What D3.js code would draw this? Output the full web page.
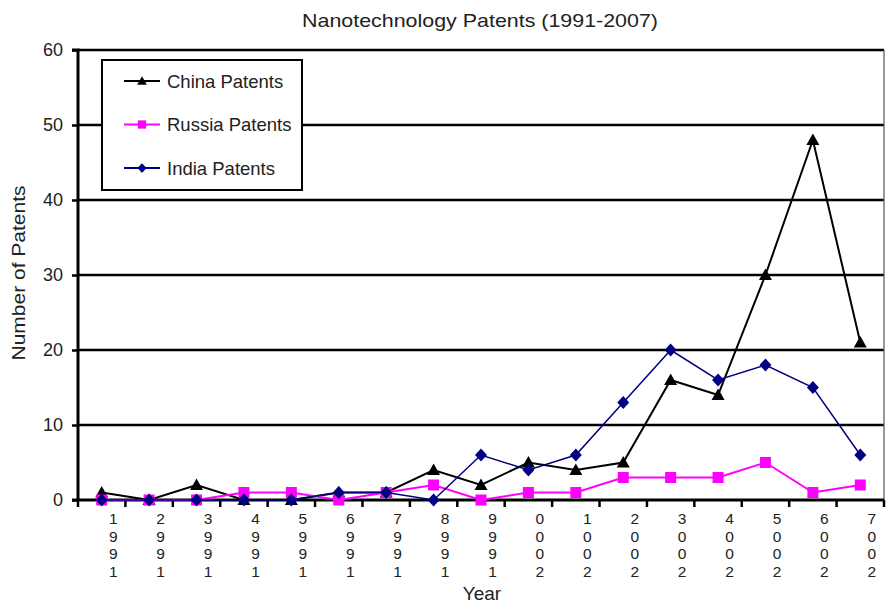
<!DOCTYPE html>
<html><head><meta charset="utf-8">
<script src="https://cdn.jsdelivr.net/npm/d3@7"></script>
<style>body{margin:0;background:#fff}svg{display:block;font-family:"Liberation Sans",Arial,sans-serif}</style>
</head><body><svg id="c" width="886" height="605"></svg>
<script>
const years = ["1991","1992","1993","1994","1995","1996","1997","1998","1999","2000","2001","2002","2003","2004","2005","2006","2007"];
const china  = [1,0,2,0,0,1,1,4,2,5,4,5,16,14,30,48,21];
const russia = [0,0,0,1,1,0,1,2,0,1,1,3,3,3,5,1,2];
const india  = [0,0,0,0,0,1,1,0,6,4,6,13,20,16,18,15,6];
const yTicks = [0,10,20,30,40,50,60];
const seriesNames = ["China Patents","Russia Patents","India Patents"];
const colors = ["#000000","#FF00FF","#000080"];

const svg = d3.select("#c");
const L=78, R=884, T=50, B=500;
const x = d3.scaleBand().domain(years).range([L, R]);
const y = d3.scaleLinear().domain([0,60]).range([B, T]);
const cx = d => x(d) + x.bandwidth()/2;

function marker(sel, si, s){
  if (si===0) sel.append("path").attr("d",`M0,${-6.5*s}L${6.5*s},${5*s}L${-6.5*s},${5*s}Z`).attr("fill",colors[0]);
  else if (si===1) sel.append("rect").attr("x",-5.5*s).attr("y",-5.5*s).attr("width",11*s).attr("height",11*s).attr("fill",colors[1]);
  else sel.append("path").attr("d",`M0,${-6.5*s}L${6*s},0L0,${6.5*s}L${-6*s},0Z`).attr("fill",colors[2]);
}

// title
svg.append("text").attr("x",480).attr("y",27).attr("text-anchor","middle")
  .attr("font-size",19).attr("fill","#222").attr("textLength",356).attr("lengthAdjust","spacingAndGlyphs")
  .text("Nanotechnology Patents (1991-2007)");

// gridlines
svg.append("g").selectAll("line").data(yTicks.filter(v=>v>0)).join("line")
  .attr("x1",L).attr("x2",R).attr("y1",d=>y(d)).attr("y2",d=>y(d))
  .attr("stroke","#000").attr("stroke-width",2.5);
// right border
svg.append("line").attr("x1",R).attr("x2",R).attr("y1",T).attr("y2",B).attr("stroke","#555").attr("stroke-width",1.2);

// y axis
const ya = svg.append("g").attr("transform",`translate(${L},0)`)
  .call(d3.axisLeft(y).tickValues(yTicks).tickSize(6).tickPadding(9));
ya.select(".domain").attr("stroke-width",3).attr("d",`M-6,${T}H0V${B}`);
ya.selectAll(".tick line").attr("stroke-width",2.5);
ya.selectAll("text").attr("font-size",18).attr("fill","#222").attr("font-family","Liberation Sans, Arial, sans-serif");

// x axis
const xa = svg.append("g").attr("transform",`translate(0,${B})`);
xa.append("line").attr("x1",L-6).attr("x2",R).attr("y1",0).attr("y2",0).attr("stroke","#000").attr("stroke-width",3);
const bounds = years.map(d=>x(d)).concat([R]);
xa.selectAll("line.tk").data(bounds).join("line").attr("class","tk")
  .attr("x1",d=>d).attr("x2",d=>d).attr("y1",0).attr("y2",7).attr("stroke","#000").attr("stroke-width",2.5);
const lab = xa.selectAll("text.yl").data(years).join("text").attr("class","yl")
  .attr("text-anchor","middle").attr("font-size",15.5).attr("fill","#222");
lab.each(function(d){
  const t = d3.select(this);
  d.split("").reverse().forEach((ch,i)=>{
    t.append("tspan").attr("x",cx(d)+11.5).attr("y",24+i*17.6).text(ch);
  });
});

// axis titles
svg.append("text").attr("x",482).attr("y",600).attr("text-anchor","middle").attr("font-size",19).attr("fill","#222").text("Year");
svg.append("text").attr("transform","translate(25,273) rotate(-90)").attr("text-anchor","middle").attr("font-size",19)
  .attr("textLength",175).attr("lengthAdjust","spacingAndGlyphs").attr("fill","#222").text("Number of Patents");

// series
const data = [china, russia, india];
const widths = [2,2,1.5];
data.forEach((vals,si)=>{
  const g = svg.append("g");
  const line = d3.line().x((v,i)=>cx(years[i])).y(v=>y(v));
  g.append("path").datum(vals).attr("d",line).attr("fill","none").attr("stroke",colors[si]).attr("stroke-width",widths[si]);
  g.selectAll("g.m").data(vals).join("g").attr("class","m")
    .attr("transform",(v,i)=>`translate(${cx(years[i])},${y(v)})`)
    .each(function(){ marker(d3.select(this), si, 1); });
});

// legend
const lg = svg.append("g").attr("transform","translate(102,60)");
lg.append("rect").attr("width",200).attr("height",130).attr("fill","#fff").attr("stroke","#000").attr("stroke-width",2);
seriesNames.forEach((n,i)=>{
  const yy = 21 + i*43.5;
  lg.append("line").attr("x1",22).attr("x2",58).attr("y1",yy).attr("y2",yy).attr("stroke",colors[i]).attr("stroke-width",2);
  marker(lg.append("g").attr("transform",`translate(40,${yy})`), i, 0.75);
  lg.append("text").attr("x",65).attr("y",yy+6.5).attr("font-size",18.5).attr("fill","#222").text(n);
});
</script></body></html>
